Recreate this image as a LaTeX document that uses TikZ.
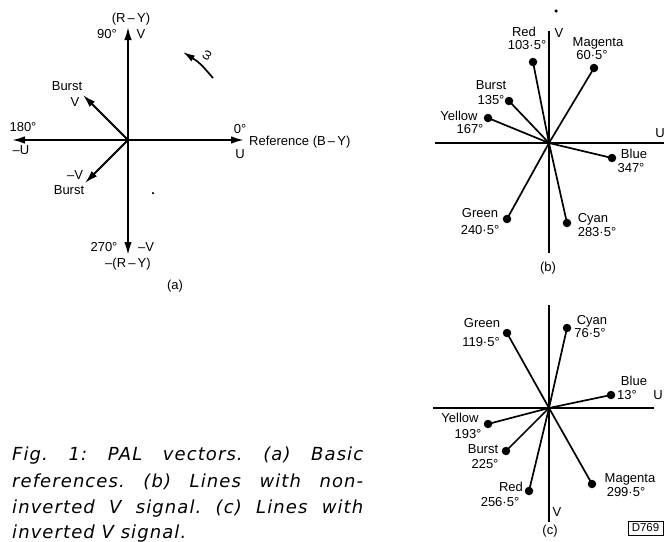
\documentclass[tikz,border=0pt]{standalone}
\usepackage{fontspec}
\setmainfont{Liberation Sans}
\newfontfamily\capfont[LetterSpace=6]{DejaVu Sans}
\usetikzlibrary{arrows.meta}
\begin{document}
\begin{tikzpicture}[x=1pt,y=-1pt,
  lab/.style={inner sep=0pt, font=\fontsize{13}{14}\selectfont, text height=9.3pt, text depth=0pt},
  ax/.style={line width=1.7pt},
  vec/.style={line width=1.7pt},
  arr/.style={line width=1.8pt, -{Latex[length=13pt,width=7.5pt]}},
  dotc/.style={circle, fill, inner sep=0pt, minimum size=8.5pt},
  speck/.style={circle, fill, inner sep=0pt, minimum size=2.5pt},
  capline/.style={anchor=base west, inner sep=0pt, font=\capfont\itshape\fontsize{18}{20}\selectfont}]
\useasboundingbox (0,0) rectangle (664,541);

% ---------------- (a) ----------------
\coordinate (A) at (128,140);
\coordinate (Atop) at (128,27);
\coordinate (Abot) at (128,255);
\coordinate (Aleft) at (12,140);
\coordinate (Aright) at (244,140);
\coordinate (Abv) at (83,95);
\coordinate (Abmv) at (85,183);
\draw[arr] (A) -- (Atop);
\draw[arr] (A) -- (Abot);
\draw[arr] (A) -- (Aleft);
\draw[arr] (A) -- (Aright);
\draw[arr] (A) -- (Abv);
\draw[arr] (A) -- (Abmv);
\coordinate (w1) at (213,78);
\coordinate (w2) at (183,52);
\draw[line width=1.7pt,-{Latex[length=12pt,width=7pt]}] (w1) .. controls (200,63) .. (w2);
\node[lab, rotate=60] (omega) at (206,55) {ω};
\node[speck] (specka) at (153,193) {};

\node[lab] (aRY) at (131,18) {(R\,–\,Y)};
\node[lab] (a90) at (107,34) {90°};
\node[lab] (aV) at (141,34) {V};
\node[lab] (aBurst1) at (67,86) {Burst};
\node[lab] (aBV) at (75,102) {V};
\node[lab] (a180) at (23,127) {180°};
\node[lab] (amU) at (21,150) {–U};
\node[lab] (a0) at (240,129) {0°};
\node[lab] (aU) at (240,154) {U};
\node[lab, anchor=west] (aRef) at (249,141) {Reference (B\,–\,Y)};
\node[lab] (amV) at (75,175) {–V};
\node[lab] (aBurst2) at (69,190) {Burst};
\node[lab] (a270) at (104,247) {270°};
\node[lab] (amV2) at (146,247) {–V};
\node[lab] (amRY) at (128,263) {–(R\,–\,Y)};
\node[lab] (acap) at (175,285) {(a)};

% ---------------- (b) ----------------
\coordinate (B) at (549,143);
\coordinate (Bl) at (435,143);
\coordinate (Br) at (664,143);
\coordinate (Bt) at (549,31);
\coordinate (Bb) at (549,253);
\draw[ax] (Bl) -- (Br);
\draw[ax] (Bt) -- (Bb);
\node[speck, minimum size=3.5pt] (speckb) at (556,11) {};
\node[dotc] (bRed) at (533,62) {};
\node[dotc] (bMag) at (594,68) {};
\node[dotc] (bBur) at (509,101) {};
\node[dotc] (bYel) at (488,118) {};
\node[dotc] (bBlu) at (612,158) {};
\node[dotc] (bCya) at (567,223) {};
\node[dotc] (bGre) at (507,219) {};
\foreach \p in {bRed,bMag,bBur,bYel,bBlu,bCya,bGre} \draw[vec] (B) -- (\p.center);

\node[lab] (bRedL) at (524,32) {Red};
\node[lab] (bRedA) at (527,45) {103·5°};
\node[lab] (bV) at (559,33) {V};
\node[lab] (bMagL) at (598,42) {Magenta};
\node[lab] (bMagA) at (592,55) {60·5°};
\node[lab] (bBurL) at (491,85) {Burst};
\node[lab] (bBurA) at (491,100) {135°};
\node[lab] (bYelL) at (459,116) {Yellow};
\node[lab] (bYelA) at (470,129) {167°};
\node[lab] (bU) at (660,133) {U};
\node[lab] (bBluL) at (634,154) {Blue};
\node[lab] (bBluA) at (631,168) {347°};
\node[lab] (bGreL) at (480,213) {Green};
\node[lab] (bGreA) at (480,230) {240·5°};
\node[lab] (bCyaL) at (593,218) {Cyan};
\node[lab] (bCyaA) at (597,232) {283·5°};
\node[lab] (bcap) at (548,267) {(b)};

% ---------------- (c) ----------------
\coordinate (C) at (549,408);
\coordinate (Cl) at (433,408);
\coordinate (Cr) at (654,408);
\coordinate (Ct) at (549,305);
\coordinate (Cb) at (549,522);
\draw[ax] (Cl) -- (Cr);
\draw[ax] (Ct) -- (Cb);
\node[dotc] (cGre) at (507,333) {};
\node[dotc] (cCya) at (567,328) {};
\node[dotc] (cBlu) at (611,395) {};
\node[dotc] (cYel) at (488,424) {};
\node[dotc] (cBur) at (506,451) {};
\node[dotc] (cRed) at (529,491) {};
\node[dotc] (cMag) at (592,484) {};
\foreach \p in {cGre,cCya,cBlu,cYel,cBur,cRed,cMag} \draw[vec] (C) -- (\p.center);

\node[lab] (cGreL) at (482,323) {Green};
\node[lab] (cGreA) at (481,342) {119·5°};
\node[lab] (cCyaL) at (592,320) {Cyan};
\node[lab] (cCyaA) at (590,333) {76·5°};
\node[lab] (cBluL) at (634,381) {Blue};
\node[lab] (cBluA) at (627,395) {13°};
\node[lab] (cU) at (658,395) {U};
\node[lab] (cYelL) at (460,418) {Yellow};
\node[lab] (cYelA) at (468,434) {193°};
\node[lab] (cBurL) at (483,449) {Burst};
\node[lab] (cBurA) at (485,464) {225°};
\node[lab] (cRedL) at (511,487) {Red};
\node[lab] (cRedA) at (500,502) {256·5°};
\node[lab] (cMagL) at (630,478) {Magenta};
\node[lab] (cMagA) at (626,492) {299·5°};
\node[lab] (cV) at (557,512) {V};
\node[lab] (ccap) at (550,530) {(c)};
\node[draw, line width=0.9pt, inner sep=0pt, minimum width=35pt, minimum height=14pt,
      font=\fontsize{11.5}{12}\selectfont] (code) at (645.5,528) {D769};

% ---------------- caption ----------------
\node[capline] (cap1) at (12,460) {\frenchspacing\makebox[351pt][s]{Fig. 1: PAL vectors. (a) Basic}};
\node[capline] (cap2) at (12,487) {\frenchspacing\makebox[351pt][s]{references. (b) Lines with non-}};
\node[capline] (cap3) at (12,513) {\frenchspacing\makebox[351pt][s]{inverted V signal. (c) Lines with}};
\node[capline] (cap4) at (12,538) {\frenchspacing inverted V signal.};
\end{tikzpicture}
\end{document}
